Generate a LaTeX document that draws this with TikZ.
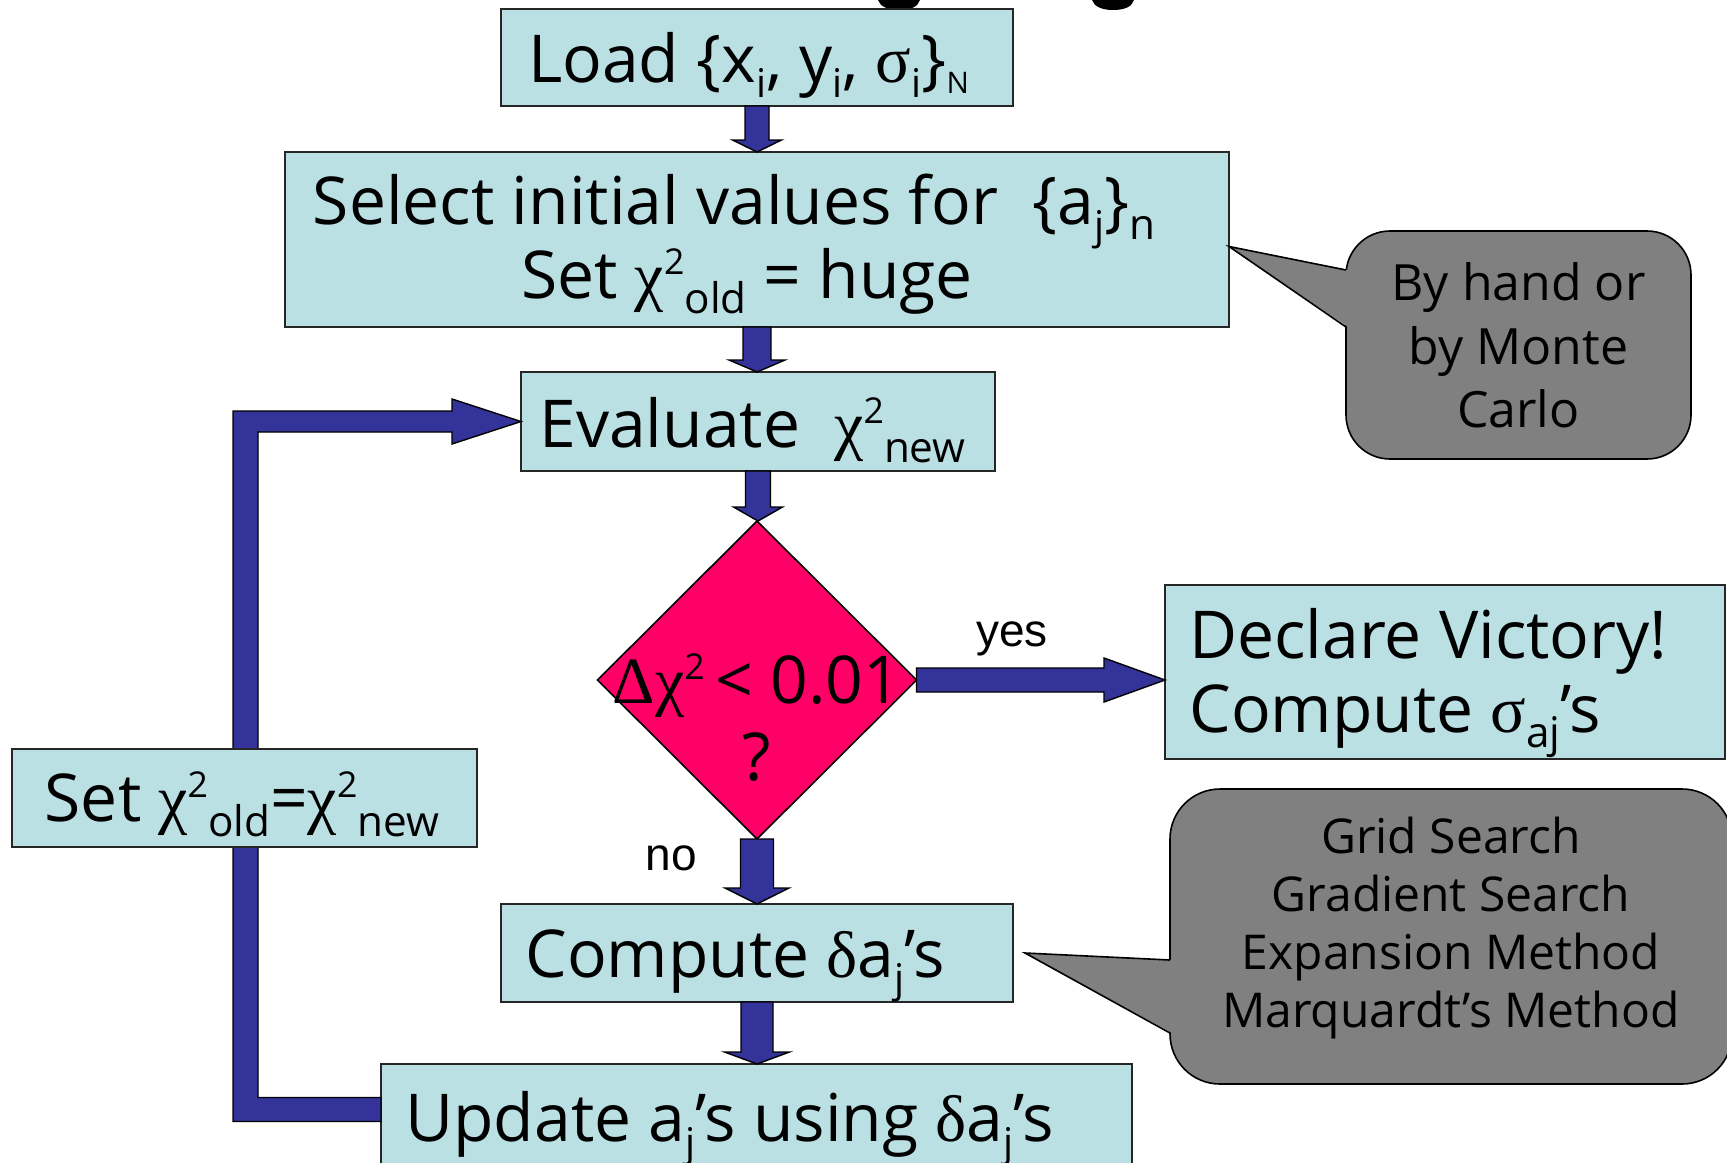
\documentclass[tikz,border=0pt]{standalone}
\usepackage{fontspec}
\setmainfont{Open Sans}
\newfontfamily\grk{Liberation Serif}
\newfontfamily\arialf{Liberation Sans}
\usetikzlibrary{shapes.geometric,calc}
\definecolor{boxc}{RGB}{187,224,227}
\definecolor{arrc}{RGB}{51,51,153}
\definecolor{decc}{RGB}{255,0,102}
\definecolor{callc}{RGB}{128,128,128}
\newcommand\sbs[1]{\raisebox{-0.24em}{\scalebox{0.64}{#1}}}
\newcommand\ssb[1]{\raisebox{-0.23em}{\scalebox{0.6}{#1}}}
\newcommand\ssN[1]{\raisebox{-0.17em}{\scalebox{0.45}{#1}}}
\newcommand\sps[1]{\raisebox{0.36em}{\scalebox{0.54}{#1}}}
\newcommand\chis{{\grk χ}\sps{2}}
% vertical block arrow: from, to, half shaft, half head, head length
\newcommand\vblk[5]{\draw[blk] let \p1=(#1), \p2=(#2) in
  (\x1-#3,\y1) -- (\x1-#3,\y2+#5) -- (\x1-#4,\y2+#5) -- (\x1,\y2) --
  (\x1+#4,\y2+#5) -- (\x1+#3,\y2+#5) -- (\x1+#3,\y1) -- cycle;}
% horizontal block arrow (to the right)
\newcommand\hblk[5]{\draw[blk] let \p1=(#1), \p2=(#2) in
  (\x1,\y1+#3) -- (\x2-#5,\y1+#3) -- (\x2-#5,\y1+#4) -- (\x2,\y1) --
  (\x2-#5,\y1-#4) -- (\x2-#5,\y1-#3) -- (\x1,\y1-#3) -- cycle;}
\begin{document}
\begin{tikzpicture}[x=0.5pt,y=-0.5pt,
  box/.style={draw=black!85, line width=0.8pt, fill=boxc, inner sep=0pt, outer sep=0pt},
  txt/.style={font=\fontsize{33}{38}\selectfont, inner sep=0pt, anchor=base},
  ltxt/.style={txt, anchor=base west},
  blk/.style={draw=black, line width=0.7pt, fill=arrc, line join=miter},
  call/.style={draw=black, line width=0.8pt, fill=callc, rounded corners=22pt,
    inner sep=0pt, outer sep=0pt},
  calltxt/.style={inner sep=0pt, align=center},
  callline/.style={draw=black, line width=0.8pt},
  lab/.style={font=\arialf\fontsize{23}{26}\selectfont, inner sep=0pt},
]
\useasboundingbox (0,0) rectangle (1727,1162);
\clip (0,0) rectangle (1727,1162);

% cut-off title descenders
\fill (878,0) .. controls (880,7) and (889,10) .. (899,10) .. controls (910,10) and (918,7) .. (920,0) -- cycle;
\fill (1092,0) .. controls (1094,7) and (1103,10) .. (1113,10) .. controls (1124,10) and (1132,7) .. (1134,0) -- cycle;

% boxes
\node[box, minimum width=256pt, minimum height=48.5pt] (load) at (757,57.5) {};
\node[box, minimum width=472pt, minimum height=87.5pt] (select) at (757,239.5) {};
\node[box, minimum width=237pt, minimum height=49.5pt] (eval) at (758,421.5) {};
\node[draw=black, line width=0.8pt, fill=decc, shape=diamond, minimum width=159.5pt,
  minimum height=159pt, inner sep=0pt, outer sep=0pt] (dec) at (757,680) {};
\node[box, minimum width=280pt, minimum height=87pt] (declare) at (1445,672) {};
\node[box, minimum width=256pt, minimum height=49pt] (compute) at (757,953) {};
\node[box, minimum width=375.5pt, minimum height=50pt] (update) at (756.5,1114) {};

% loop arrow
\coordinate (lc) at (245.5,1109.5);
\draw[blk] let \p1=(update.west), \p2=(eval.west), \p3=(lc) in
  (\x1,\y3-6pt) -- (\x3-6.25pt,\y3-6pt) -- (\x3-6.25pt,\y2+5.25pt) --
  (\x2-34.5pt,\y2+5.25pt) -- (\x2-34.5pt,\y2+11.25pt) -- (\x2,\y2) --
  (\x2-34.5pt,\y2-11.25pt) -- (\x2-34.5pt,\y2-5.25pt) -- (\x3+6.25pt,\y2-5.25pt) --
  (\x3+6.25pt,\y3+6pt) -- (\x1,\y3+6pt) -- cycle;

\node[box, minimum width=232.5pt, minimum height=49pt] (set) at (244.5,798) {};

% texts
\node[txt] (tload) at (748.5,82) {Load \{x\ssb{i}, y\ssb{i}, {\grk σ}\ssb{i}\}\ssN{N}};
\node[txt] (tsel1) at (734,224) {Select initial values for\ \ \{a\ssb{j}\}\sbs{n}};
\node[txt] (tsel2) at (747,298) {Set \chis\sbs{old} = huge};
\node[txt] (teval) at (752.5,447) {Evaluate\ \ \chis\sbs{new}};
\node[txt] (tdec1) at (757,703) {{\grk Δχ}\sps{2}\,<\ 0.01};
\node[txt] (tdec2) at (757,780) {?};
\node[ltxt] (tdcl1) at (1189,658.5) {Declare Victory!};
\node[ltxt] (tdcl2) at (1189,732) {Compute {\grk σ}\sbs{aj}’s};
\node[txt] (tset) at (242,821) {Set \chis\sbs{old}=\chis\sbs{new}};
\node[ltxt] (tcomp) at (525,977) {Compute {\grk δ}a\ssb{j}’s};
\node[ltxt] (tupd) at (405,1141) {Update a\ssb{j}’s using {\grk δ}a\ssb{j}’s};

% flow arrows
\vblk{load.south}{select.north}{6pt}{12.25pt}{6pt}
\vblk{select.south}{eval.north}{7pt}{14pt}{6pt}
\vblk{eval.south}{dec.north}{6.25pt}{12.25pt}{7pt}
\vblk{dec.south}{compute.north}{8.25pt}{16pt}{8pt}
\vblk{compute.south}{update.north}{8pt}{16.25pt}{6pt}
\hblk{dec.east}{declare.west}{6pt}{11pt}{30.5pt}

\node[lab] (yes) at (1012,639) {yes};
\node[lab] (no) at (671,858.5) {no};

% callout 1
\node[call, minimum width=172.5pt, minimum height=114pt] (cb1) at (1518.5,345) {};
\coordinate (t1) at ([yshift=-3.5pt]select.east);
\fill[callc] ([yshift=37.5pt,xshift=1pt]cb1.west) -- (t1) -- ([yshift=9pt,xshift=1pt]cb1.west) -- cycle;
\draw[callline] ([yshift=37.5pt]cb1.west) -- (t1) -- ([yshift=9pt]cb1.west);
\node[calltxt, font=\fontsize{25}{31.8}\selectfont] (tcb1) at (1518.5,345.5)
  {By hand or\\by Monte\\Carlo};

% callout 2
\node[call, rounded corners=25pt, minimum width=281pt, minimum height=147.5pt] (cb2) at (1451,936.5) {};
\coordinate (t2) at ([xshift=6pt]compute.east);
\fill[callc] ([yshift=-11.75pt,xshift=1pt]cb2.west) -- (t2) -- ([yshift=-48.25pt,xshift=1pt]cb2.west) -- cycle;
\draw[callline] ([yshift=-11.75pt]cb2.west) -- (t2) -- ([yshift=-48.25pt]cb2.west);
\node[calltxt, font=\fontsize{24}{28.9}\selectfont] (tcb2) at (1451,928)
  {Grid Search\\Gradient Search\\Expansion Method\\Marquardt’s Method};
\end{tikzpicture}
\end{document}
